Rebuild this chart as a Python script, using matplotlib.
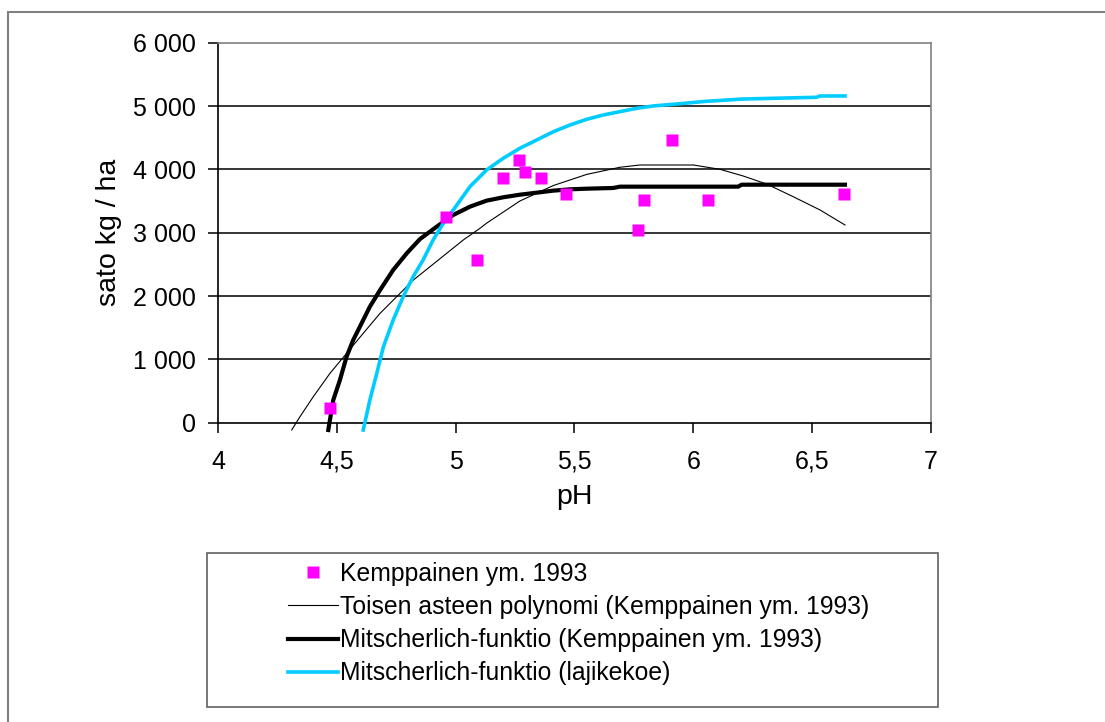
import matplotlib
matplotlib.use("Agg")
import matplotlib.pyplot as plt
from matplotlib.patches import Rectangle
from matplotlib.lines import Line2D
from matplotlib.ticker import FixedLocator, FuncFormatter

plt.rcParams['font.family'] = ['Liberation Sans', 'DejaVu Sans']

# havainnot (Kemppainen ym. 1993)
obs_ph = [4.47, 4.96, 5.09, 5.20, 5.265, 5.29, 5.357, 5.466, 5.768, 5.792, 5.912, 6.061, 6.634]
obs_sato = [240, 3240, 2570, 3870, 4155, 3965, 3870, 3617, 3047, 3522, 4471, 3522, 3617]

# toisen asteen polynomi, luettu kuvasta
poly_ph = [4.310, 4.345, 4.401, 4.471, 4.541, 4.611, 4.682, 4.752, 4.822, 4.892, 4.962,
           5.032, 5.102, 5.130, 5.270, 5.411, 5.551, 5.691, 5.775, 5.944, 6.000, 6.112,
           6.210, 6.308, 6.420, 6.533, 6.638]
poly_sato = [-115, 95, 411, 779, 1095, 1411, 1727, 1990, 2253, 2463, 2674,
             2885, 3069, 3150, 3500, 3745, 3920, 4033, 4069, 4069, 4069, 4001,
             3895, 3769, 3569, 3359, 3122]

# Mitscherlich (Kemppainen ym. 1993)
mk_ph = [4.464, 4.485, 4.513, 4.541, 4.569, 4.597, 4.639, 4.682, 4.737, 4.794, 4.850,
         4.920, 4.990, 5.060, 5.130, 5.200, 5.270, 5.341, 5.411, 5.481, 5.551, 5.663,
         5.691, 5.944, 6.189, 6.203, 6.638]
mk_sato = [-115, 358, 674, 1042, 1306, 1516, 1832, 2095, 2411, 2674, 2900,
           3095, 3280, 3411, 3506, 3559, 3600, 3632, 3664, 3685, 3695, 3706,
           3727, 3727, 3727, 3758, 3758]

# Mitscherlich (lajikekoe)
ml_ph = [4.611, 4.639, 4.668, 4.696, 4.737, 4.779, 4.821, 4.863, 4.905, 4.948, 4.990,
         5.060, 5.130, 5.200, 5.270, 5.341, 5.411, 5.481, 5.551, 5.621, 5.691, 5.761,
         5.831, 5.929, 6.056, 6.210, 6.519, 6.533, 6.638]
ml_sato = [-115, 358, 779, 1200, 1621, 1990, 2305, 2569, 2885, 3148, 3359,
           3727, 3990, 4175, 4333, 4464, 4595, 4701, 4790, 4859, 4911, 4964,
           5001, 5032, 5075, 5111, 5138, 5159, 5159]

x_ticks = [4, 4.5, 5, 5.5, 6, 6.5, 7]
y_ticks = [0, 1000, 2000, 3000, 4000, 5000, 6000]

labels = ["Kemppainen ym. 1993",
          "Toisen asteen polynomi (Kemppainen ym. 1993)",
          "Mitscherlich-funktio (Kemppainen ym. 1993)",
          "Mitscherlich-funktio (lajikekoe)"]

W, H = 1105, 722
fig = plt.figure(figsize=(W / 100, H / 100), dpi=100)

# outer chart frame (runs off right/bottom edge)
fig.patches.append(Rectangle((8 / W, -0.1), 1.2, (H - 12) / H + 0.1, transform=fig.transFigure,
                             fill=False, edgecolor='#808080', lw=1.5))

ax = fig.add_axes([218 / W, (H - 422.7) / H, 713 / W, 380 / H])
ax.set_xlim(4, 7)
ax.set_ylim(0, 6000)

for y in y_ticks[1:-1]:
    ax.axhline(y, color='#000000', lw=1.1, zorder=1)

ax.plot(poly_ph, poly_sato, color='black', lw=0.8, clip_on=False, zorder=3)
ax.plot(mk_ph, mk_sato, color='black', lw=3.0, clip_on=False, zorder=3)
ax.plot(ml_ph, ml_sato, color='#00CCFF', lw=2.6, clip_on=False, zorder=3)
ax.plot(obs_ph, obs_sato, 's', color='#FF00FF', ms=8.6, mec='none', zorder=4, clip_on=False)

ax.spines['top'].set_color('#808080')
ax.spines['right'].set_color('#808080')
ax.spines['left'].set_color('black')
ax.spines['bottom'].set_color('black')
for s in ax.spines.values():
    s.set_linewidth(1.2)

ax.xaxis.set_major_locator(FixedLocator(x_ticks))
ax.yaxis.set_major_locator(FixedLocator(y_ticks))
ax.xaxis.set_major_formatter(FuncFormatter(lambda v, p: ('%g' % v).replace('.', ',')))
ax.yaxis.set_major_formatter(FuncFormatter(lambda v, p: ('{:,.0f}'.format(v)).replace(',', ' ')))
ax.tick_params(axis='y', direction='out', length=7, width=1.1, pad=9, labelsize=18)
ax.tick_params(axis='x', direction='out', length=7, width=1.1, pad=12.5, labelsize=18)

ax.set_xlabel('pH', fontsize=20.5)
ax.set_ylabel('sato kg / ha', fontsize=20.5)
ax.xaxis.set_label_coords(0.5, -0.161)
ax.yaxis.set_label_coords(-0.135, 0.5)

# legend frame
fig.patches.append(Rectangle((207 / W, (H - 707) / H), 731 / W, 154 / H, transform=fig.transFigure,
                             fill=False, edgecolor='#606060', lw=1.2))
handles = [Line2D([], [], ls='none', marker='s', color='#FF00FF', ms=8, mec='none'),
           Line2D([], [], color='black', lw=0.8),
           Line2D([], [], color='black', lw=3.0),
           Line2D([], [], color='#00CCFF', lw=2.6)]
fig.legend(handles, labels, loc='upper left', bbox_to_anchor=(288 / W, (H - 562) / H),
           frameon=False, fontsize=17.8, handlelength=2.02, handletextpad=0.08,
           labelspacing=0.37, borderpad=0, borderaxespad=0)

fig.savefig('out.png', dpi=100)
